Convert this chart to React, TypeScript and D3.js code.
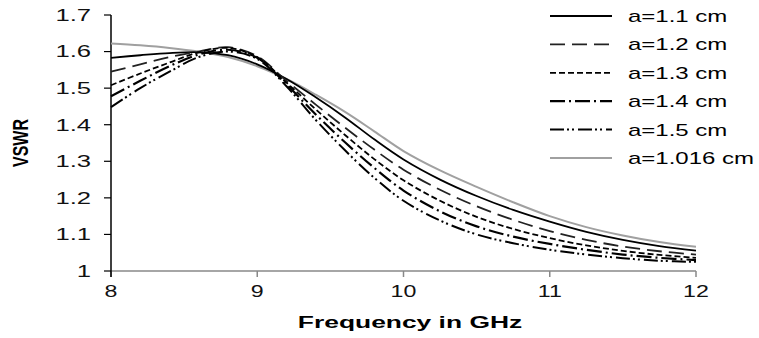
import React from "react";
import * as d3 from "d3";

const freqs = [8, 8.2, 8.4, 8.6, 8.8, 9.0, 9.2, 9.4, 9.6, 9.8, 10, 10.25, 10.5, 10.75, 11, 11.25, 11.5, 11.75, 12];
const a1016 = [1.622, 1.617, 1.61, 1.6, 1.585, 1.56, 1.525, 1.482, 1.435, 1.382, 1.328, 1.275, 1.23, 1.188, 1.15, 1.12, 1.097, 1.079, 1.066];
const a11 = [1.583, 1.59, 1.596, 1.598, 1.59, 1.565, 1.525, 1.475, 1.42, 1.36, 1.305, 1.25, 1.205, 1.167, 1.135, 1.107, 1.085, 1.068, 1.056];
const a12 = [1.545, 1.565, 1.585, 1.6, 1.612, 1.587, 1.52, 1.455, 1.392, 1.332, 1.277, 1.222, 1.177, 1.14, 1.109, 1.085, 1.067, 1.054, 1.045];
const a13 = [1.508, 1.54, 1.57, 1.598, 1.61, 1.585, 1.515, 1.442, 1.372, 1.306, 1.248, 1.192, 1.148, 1.115, 1.09, 1.07, 1.055, 1.044, 1.036];
const a14 = [1.478, 1.52, 1.56, 1.592, 1.605, 1.583, 1.51, 1.428, 1.352, 1.282, 1.22, 1.163, 1.122, 1.094, 1.074, 1.058, 1.045, 1.036, 1.03];
const a15 = [1.448, 1.5, 1.545, 1.585, 1.6, 1.58, 1.505, 1.413, 1.33, 1.255, 1.192, 1.138, 1.1, 1.076, 1.058, 1.045, 1.035, 1.028, 1.025];

const seriesNames = ["a=1.1 cm", "a=1.2 cm", "a=1.3 cm", "a=1.4 cm", "a=1.5 cm", "a=1.016 cm"];
const seriesValues = [a11, a12, a13, a14, a15, a1016];
const yTicks = [1, 1.1, 1.2, 1.3, 1.4, 1.5, 1.6, 1.7];
const xTicks = [8, 9, 10, 11, 12];

const styles = [
  { stroke: "#000", width: 1.8, dash: "" },
  { stroke: "#222", width: 1.8, dash: "15,7" },
  { stroke: "#000", width: 1.8, dash: "6,3" },
  { stroke: "#000", width: 2.2, dash: "15,4,2,4" },
  { stroke: "#000", width: 2, dash: "14,3,2,3,2,4" },
  { stroke: "#a0a0a0", width: 2, dash: "" },
];

const FONT = "'Liberation Sans', Arial, sans-serif";

export default function App() {
  const x = d3.scaleLinear().domain([8, 12]).range([111, 696]);
  const y = d3.scaleLinear().domain([1, 1.7]).range([271, 15]);
  const line = d3
    .line<number>()
    .x((_, i) => x(freqs[i]))
    .y((d) => y(d))
    .curve(d3.curveCatmullRom.alpha(0.5));

  const drawOrder = [5, 0, 1, 2, 3, 4];
  const legendY0 = 16;
  const legendStep = 28.4;

  return (
    <svg width={759} height={338} style={{ position: "absolute", left: 0, top: 0, background: "#fff" }}>
      <rect width={759} height={338} fill="#fff" />
      <line x1={x(8)} x2={x(12)} y1={y(1)} y2={y(1)} stroke="#888" strokeWidth={1.5} />
      {xTicks.map((t) => (
        <line key={"xt" + t} x1={x(t)} x2={x(t)} y1={y(1)} y2={y(1) + 6} stroke="#888" strokeWidth={1.5} />
      ))}
      <line x1={x(8)} x2={x(8)} y1={y(1.7)} y2={y(1) + 6} stroke="#000" strokeWidth={1.5} />
      {yTicks.map((t) => (
        <line key={"yt" + t} x1={x(8) - 7} x2={x(8)} y1={y(t)} y2={y(t)} stroke="#000" strokeWidth={1.2} />
      ))}
      {yTicks.map((t) => (
        <text
          key={"yl" + t}
          transform={`translate(91,${y(t) + 5.8}) scale(1.6,1)`}
          textAnchor="end"
          fontFamily={FONT}
          fontSize={16}
          fill="#111"
        >
          {d3.format("")(+t.toFixed(1))}
        </text>
      ))}
      {xTicks.map((t) => (
        <text
          key={"xl" + t}
          transform={`translate(${x(t)},297) scale(1.45,1)`}
          textAnchor="middle"
          fontFamily={FONT}
          fontSize={16}
          fill="#111"
        >
          {t}
        </text>
      ))}
      <text
        transform="translate(410,328) scale(1.65,1)"
        textAnchor="middle"
        fontFamily={FONT}
        fontSize={16}
        fontWeight="bold"
        fill="#000"
      >
        Frequency in GHz
      </text>
      <text
        transform="translate(28,143) scale(1.35,1) rotate(-90)"
        textAnchor="middle"
        fontFamily={FONT}
        fontSize={16}
        fontWeight="bold"
        fill="#000"
      >
        VSWR
      </text>
      {drawOrder.map((i) => (
        <path
          key={"c" + i}
          d={line(seriesValues[i]) || ""}
          fill="none"
          stroke={styles[i].stroke}
          strokeWidth={styles[i].width}
          strokeDasharray={styles[i].dash}
        />
      ))}
      {seriesNames.map((n, i) => (
        <g key={"lg" + i}>
          <line
            x1={550}
            x2={612}
            y1={legendY0 + i * legendStep}
            y2={legendY0 + i * legendStep}
            stroke={styles[i].stroke}
            strokeWidth={styles[i].width}
            strokeDasharray={styles[i].dash}
          />
          <text
            transform={`translate(628,${legendY0 + i * legendStep + 6}) scale(1.5,1)`}
            fontFamily={FONT}
            fontSize={16}
            fill="#000"
          >
            {n}
          </text>
        </g>
      ))}
    </svg>
  );
}
